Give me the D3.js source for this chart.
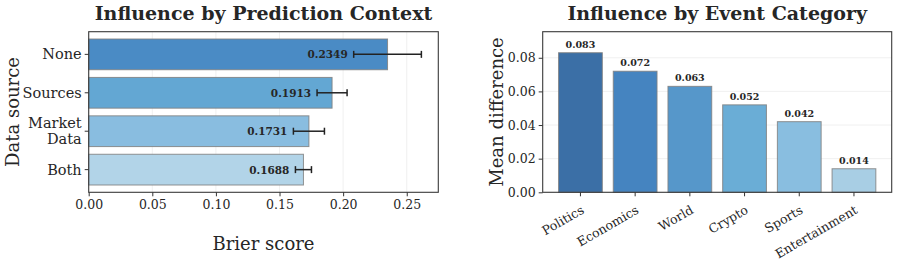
<!DOCTYPE html>
<html>
<head>
<meta charset="utf-8">
<script src="https://cdn.jsdelivr.net/npm/d3@7"></script>
<style>
  body { margin: 0; background: #fff; }
  svg { display: block; font-family: "DejaVu Serif", serif; }
</style>
</head>
<body>
<div id="chart"></div>
<script>
// left panel: brier score by data source
const sources = ["None", "Sources", "Market\nData", "Both"];
const brier = [0.2349, 0.1913, 0.1731, 0.1688];
const brierErr = [0.0266, 0.0118, 0.0122, 0.0063];
const brierTicks = [0, 0.05, 0.10, 0.15, 0.20, 0.25];
const sourceColors = ["#4a8bc5", "#63a7d3", "#89bde0", "#b2d4e8"];

// right panel: mean difference by event category
const categories = ["Politics", "Economics", "World", "Crypto", "Sports", "Entertainment"];
const meanDiff = [0.083, 0.072, 0.063, 0.052, 0.042, 0.014];
const diffTicks = [0, 0.02, 0.04, 0.06, 0.08];
const catColors = ["#3b6fa6", "#4584c0", "#5697ca", "#6aadd6", "#89bee0", "#a8cee4"];

const W = 897, H = 264;
const ink = "#262626";

const svg = d3.select("#chart").append("svg")
  .attr("width", W).attr("height", H);

function frame(g, x0, x1, y0, y1) {
  g.append("rect")
    .attr("x", x0).attr("y", y0)
    .attr("width", x1 - x0).attr("height", y1 - y0)
    .attr("fill", "none").attr("stroke", "#3a3a3a").attr("stroke-width", 1.1);
}

// ---------- left ----------
(() => {
  const x0 = 88.7, x1 = 438.3, y0 = 31.7, y1 = 192.3;
  const g = svg.append("g");

  const x = d3.scaleLinear().domain([0, 0.2748]).range([x0, x1]);
  const y = d3.scaleBand().domain(sources).range([y0, y1])
    .paddingInner(0.2).paddingOuter(0.19);

  g.append("g").selectAll("line").data(brierTicks).join("line")
    .attr("x1", d => x(d)).attr("x2", d => x(d))
    .attr("y1", y0).attr("y2", y1)
    .attr("stroke", "#ececec").attr("stroke-width", 0.8);

  g.append("g").selectAll("rect").data(sources).join("rect")
    .attr("x", x(0))
    .attr("y", d => y(d))
    .attr("width", (d, i) => x(brier[i]) - x(0))
    .attr("height", y.bandwidth())
    .attr("fill", (d, i) => sourceColors[i])
    .attr("stroke", "#808080").attr("stroke-opacity", 0.85).attr("stroke-width", 1);

  // error bars
  const eb = g.append("g").attr("stroke", "#222").attr("stroke-width", 1.5);
  sources.forEach((s, i) => {
    const cy = y(s) + y.bandwidth() / 2;
    const lo = x(brier[i] - brierErr[i]), hi = x(brier[i] + brierErr[i]);
    eb.append("line").attr("x1", lo).attr("x2", hi).attr("y1", cy).attr("y2", cy);
    [lo, hi].forEach(px => eb.append("line")
      .attr("x1", px).attr("x2", px).attr("y1", cy - 3.5).attr("y2", cy + 3.5));
    g.append("text")
      .attr("x", lo - 6).attr("y", cy + 4)
      .attr("text-anchor", "end")
      .attr("font-size", 10.5).attr("font-weight", "bold").attr("fill", ink)
      .text(brier[i].toFixed(4));
  });

  frame(g, x0, x1, y0, y1);

  const xa = d3.axisBottom(x).tickValues(brierTicks).tickFormat(d3.format(".2f"))
    .tickSize(4).tickPadding(3.5);
  g.append("g").attr("transform", `translate(0,${y1})`).call(xa)
    .call(a => a.select(".domain").remove())
    .call(a => a.selectAll("line").attr("stroke", "#333"))
    .call(a => a.selectAll("text").attr("font-size", 12.5).attr("fill", ink)
      .attr("font-family", "DejaVu Serif"));

  const ya = g.append("g");
  sources.forEach(s => {
    const cy = y(s) + y.bandwidth() / 2;
    ya.append("line").attr("x1", x0 - 4).attr("x2", x0).attr("y1", cy).attr("y2", cy)
      .attr("stroke", "#333");
    const lines = s.split("\n");
    const t = ya.append("text").attr("text-anchor", "end")
      .attr("font-size", 14.5).attr("fill", ink);
    lines.forEach((l, k) => {
      t.append("tspan").attr("x", x0 - 7)
        .attr("y", cy + 5 + (k - (lines.length - 1) / 2) * 16).text(l);
    });
  });

  g.append("text").attr("x", (x0 + x1) / 2).attr("y", 19.5)
    .attr("text-anchor", "middle").attr("font-size", 19).attr("font-weight", "bold")
    .attr("fill", ink).text("Influence by Prediction Context");

  g.append("text").attr("x", (x0 + x1) / 2).attr("y", 250)
    .attr("text-anchor", "middle").attr("font-size", 18).attr("fill", ink)
    .text("Brier score");

  g.append("text").attr("transform", `translate(19,${(y0 + y1) / 2}) rotate(-90)`)
    .attr("text-anchor", "middle").attr("font-size", 18).attr("fill", ink)
    .text("Data source");
})();

// ---------- right ----------
(() => {
  const x0 = 542.7, x1 = 891.7, y0 = 31.7, y1 = 192.3;
  const g = svg.append("g");

  const x = d3.scaleBand().domain(categories).range([x0, x1])
    .paddingInner(0.2).paddingOuter(0.29);
  const y = d3.scaleLinear().domain([0, 0.0955]).range([y1, y0]);

  g.append("g").selectAll("line").data(diffTicks).join("line")
    .attr("x1", x0).attr("x2", x1)
    .attr("y1", d => y(d)).attr("y2", d => y(d))
    .attr("stroke", "#ececec").attr("stroke-width", 0.8);

  g.append("g").selectAll("rect").data(categories).join("rect")
    .attr("x", d => x(d))
    .attr("y", (d, i) => y(meanDiff[i]))
    .attr("width", x.bandwidth())
    .attr("height", (d, i) => y(0) - y(meanDiff[i]))
    .attr("fill", (d, i) => catColors[i])
    .attr("stroke", "#808080").attr("stroke-opacity", 0.85).attr("stroke-width", 1);

  g.append("g").selectAll("text").data(categories).join("text")
    .attr("x", d => x(d) + x.bandwidth() / 2)
    .attr("y", (d, i) => y(meanDiff[i]) - 5)
    .attr("text-anchor", "middle")
    .attr("font-size", 9.5).attr("font-weight", "bold").attr("fill", ink)
    .text((d, i) => meanDiff[i].toFixed(3));

  frame(g, x0, x1, y0, y1);

  const ya = d3.axisLeft(y).tickValues(diffTicks).tickFormat(d3.format(".2f"))
    .tickSize(4).tickPadding(3);
  g.append("g").attr("transform", `translate(${x0},0)`).call(ya)
    .call(a => a.select(".domain").remove())
    .call(a => a.selectAll("line").attr("stroke", "#333"))
    .call(a => a.selectAll("text").attr("font-size", 12.5).attr("fill", ink)
      .attr("font-family", "DejaVu Serif"));

  const xa = g.append("g");
  categories.forEach(c => {
    const cx = x(c) + x.bandwidth() / 2;
    xa.append("line").attr("x1", cx).attr("x2", cx).attr("y1", y1).attr("y2", y1 + 4)
      .attr("stroke", "#333");
    xa.append("text")
      .attr("transform", `translate(${cx + 4.5},212.5) rotate(-30)`)
      .attr("text-anchor", "end")
      .attr("font-size", 12.5).attr("fill", ink).text(c);
  });

  g.append("text").attr("x", (x0 + x1) / 2).attr("y", 19.5)
    .attr("text-anchor", "middle").attr("font-size", 19).attr("font-weight", "bold")
    .attr("fill", ink).text("Influence by Event Category");

  g.append("text").attr("transform", `translate(503,${(y0 + y1) / 2}) rotate(-90)`)
    .attr("text-anchor", "middle").attr("font-size", 18).attr("fill", ink)
    .text("Mean difference");
})();
</script>
</body>
</html>
